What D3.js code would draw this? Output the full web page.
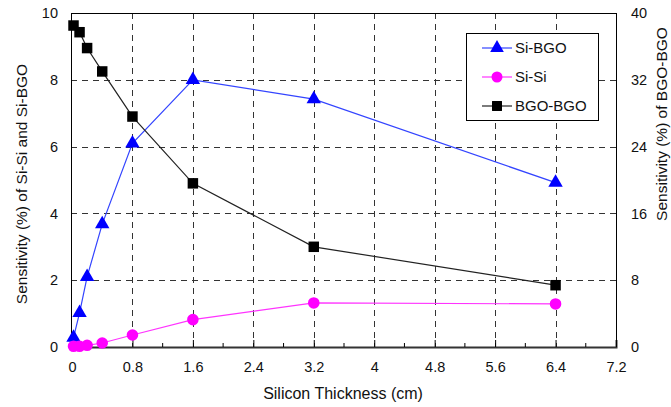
<html>
<head>
<script src="https://cdnjs.cloudflare.com/ajax/libs/d3/7.8.5/d3.min.js"></script>
<style>
  body { margin: 0; background: #fff; }
  text { font-family: "Liberation Sans", Arial, sans-serif; fill: #111; }
</style>
</head>
<body>
<svg id="chart" width="671" height="407"></svg>
<script>
var thickness = [0.02, 0.1, 0.2, 0.4, 0.8, 1.6, 3.2, 6.4];
var siBgo  = [0.28, 1.02, 2.1, 3.68, 6.1, 8.0, 7.42, 4.92];
var siSi   = [0.02, 0.02, 0.05, 0.12, 0.36, 0.82, 1.32, 1.29];
var bgoBgo = [38.5, 37.7, 35.8, 33.0, 27.6, 19.6, 12.0, 7.4];
var xTicks = [0, 0.8, 1.6, 2.4, 3.2, 4, 4.8, 5.6, 6.4, 7.2];
var yLeftTicks = [0, 2, 4, 6, 8, 10];
var yRightTicks = [0, 8, 16, 24, 32, 40];

var svg = d3.select("#chart");
var pl = 71, pr = 616, pt = 13, pb = 347;

var x = d3.scaleLinear().domain([0, 7.2]).range([pl + 1, pr]);
var y = d3.scaleLinear().domain([0, 10]).range([pb, pt]);
var y2 = d3.scaleLinear().domain([0, 40]).range([pb, pt]);

// grid
var grid = svg.append("g").attr("stroke", "#333").attr("stroke-dasharray", "6,5").attr("stroke-width", 1);
grid.selectAll("line.v").data(xTicks.filter(d => d > 0 && d < 7.2)).enter().append("line")
  .attr("x1", d => Math.round(x(d)) + 0.5).attr("x2", d => Math.round(x(d)) + 0.5)
  .attr("y1", pt).attr("y2", pb);
grid.selectAll("line.h").data(yLeftTicks.filter(d => d > 0 && d < 10)).enter().append("line")
  .attr("y1", d => Math.round(y(d)) + 0.5).attr("y2", d => Math.round(y(d)) + 0.5)
  .attr("x1", pl).attr("x2", pr);

// frame
svg.append("rect").attr("x", pl + 0.5).attr("y", pt + 0.5)
  .attr("width", pr - pl).attr("height", pb - pt)
  .attr("fill", "none").attr("stroke", "#000");

// x axis ticks (inward)
var xAxis = svg.append("g").attr("transform", "translate(0," + pb + ")")
  .call(d3.axisBottom(x).tickValues(xTicks).tickSize(-7).tickPadding(15).tickFormat(d3.format("")));
var minor = d3.range(0.4, 7.2, 0.8);
svg.append("g").selectAll("line").data(minor).enter().append("line")
  .attr("x1", d => x(d)).attr("x2", d => x(d)).attr("y1", pb).attr("y2", pb - 4)
  .attr("stroke", "#000");
xAxis.select(".domain").attr("stroke", "#333").attr("stroke-width", 2);
xAxis.selectAll("text").attr("font-size", 14.5);

var yAxis = svg.append("g").attr("transform", "translate(" + pl + ",0)")
  .call(d3.axisLeft(y).tickValues(yLeftTicks).tickSize(0).tickPadding(13));
yAxis.select(".domain").remove();
yAxis.selectAll("text").attr("font-size", 14.5);

var yAxis2 = svg.append("g").attr("transform", "translate(" + pr + ",0)")
  .call(d3.axisRight(y2).tickValues(yRightTicks).tickSize(0).tickPadding(15));
yAxis2.select(".domain").remove();
yAxis2.selectAll("text").attr("font-size", 14.5);

// titles
svg.append("text").attr("x", 343).attr("y", 399).attr("text-anchor", "middle")
  .attr("font-size", 16).text("Silicon Thickness (cm)");
svg.append("text").attr("transform", "translate(27,184) rotate(-90)").attr("text-anchor", "middle")
  .attr("font-size", 15.5).text("Sensitivity (%) of Si-Si and Si-BGO");
svg.append("text").attr("transform", "translate(667,124) rotate(-90)").attr("text-anchor", "middle")
  .attr("font-size", 15.5).text("Sensitivity (%) of BGO-BGO");

var series = [
  { name: "Si-BGO", values: siBgo, scale: y, color: "#0000ff", line: "#3344ff", shape: d3.symbolTriangle, size: 90 },
  { name: "Si-Si", values: siSi, scale: y, color: "#ff00ff", line: "#ff33ff", shape: d3.symbolCircle, size: 105 },
  { name: "BGO-BGO", values: bgoBgo, scale: y2, color: "#000000", line: "#222", shape: d3.symbolSquare, size: 110 }
];

series.forEach(function(s) {
  var pts = thickness.map((t, i) => [t, s.values[i]]);
  svg.append("path").datum(pts)
    .attr("d", d3.line().x(d => x(d[0])).y(d => s.scale(d[1])))
    .attr("fill", "none").attr("stroke", s.line).attr("stroke-width", 1.2);
  svg.append("g").selectAll("path").data(pts).enter().append("path")
    .attr("d", d3.symbol().type(s.shape).size(s.size))
    .attr("transform", d => "translate(" + x(d[0]) + "," + s.scale(d[1]) + ")")
    .attr("fill", s.color);
});

// legend
var lg = svg.append("g");
lg.append("rect").attr("x", 466.5).attr("y", 33.5).attr("width", 132).attr("height", 87)
  .attr("fill", "#fff").attr("stroke", "#000");
series.forEach(function(s, i) {
  var ly = 48 + i * 29;
  lg.append("line").attr("x1", 482).attr("x2", 512).attr("y1", ly).attr("y2", ly)
    .attr("stroke", s.line).attr("stroke-width", 1.2);
  lg.append("path").attr("d", d3.symbol().type(s.shape).size(s.size * 0.9))
    .attr("transform", "translate(497," + ly + ")").attr("fill", s.color);
  lg.append("text").attr("x", 515).attr("y", ly + 5).attr("font-size", 15).text(s.name);
});
</script>
</body>
</html>
